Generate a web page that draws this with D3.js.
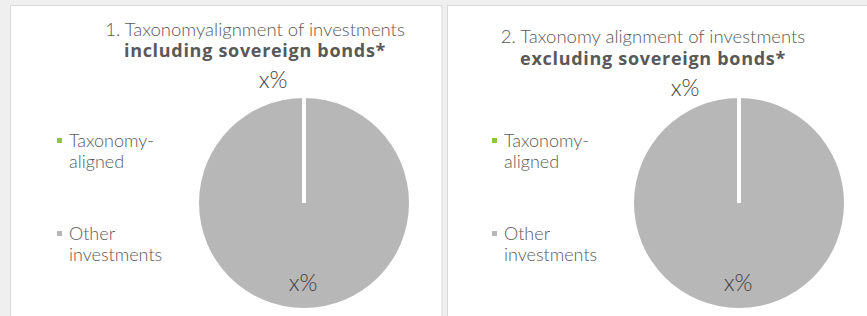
<!DOCTYPE html>
<html><head><meta charset="utf-8">
<script src="https://cdn.jsdelivr.net/npm/d3@7"></script>
<style>
html,body{margin:0;padding:0;background:#efefef;}
svg{display:block;}
text{font-family:Lato,"Noto Sans",sans-serif;fill:#595959;}
</style></head><body>
<svg id="c" width="867" height="316"></svg>
<script>
const categories = ["Taxonomy-aligned", "Other investments"];
const legendLines = [["Taxonomy-", "aligned"], ["Other", "investments"]];
const chartTitles = ["1. Taxonomyalignment of investments", "2. Taxonomy alignment of investments"];
const chartSubtitles = ["including sovereign bonds*", "excluding sovereign bonds*"];
const valuesIncluding = [0, 100];
const valuesExcluding = [0, 100];
const labelText = ["x%", "x%"];
const colors = ["#8cc63f", "#b7b7b7"];

const svg = d3.select("#c");
const color = d3.scaleOrdinal().domain(categories).range(colors);

const panels = [
  {x: 10.5, w: 431.5, cx: 304, cy: 203, titleX: 255, t1y: 36, t2y: 57, topLbl: [273, 88], legX: 57, values: valuesIncluding},
  {x: 447.5, w: 420, cx: 739, cy: 203, titleX: 653, t1y: 43, t2y: 65, topLbl: [685, 96], legX: 492, values: valuesExcluding}
];
const r = 105;

panels.forEach((p, i) => {
  svg.append("rect").attr("x", p.x).attr("y", 5.5).attr("width", p.w).attr("height", 320)
    .attr("fill", "#fff").attr("stroke", "#d9d9d9").attr("stroke-width", 1);

  svg.append("text").attr("x", p.titleX).attr("y", p.t1y).attr("text-anchor", "middle")
    .style("font-size", "18.5px").style("font-weight", 300).text(chartTitles[i]);
  svg.append("text").attr("x", p.titleX).attr("y", p.t2y).attr("text-anchor", "middle")
    .style("font-family", "'Open Sans',sans-serif").style("letter-spacing", "0.7px")
    .style("font-size", "18px").style("font-weight", 700).text(chartSubtitles[i]);

  const data = categories.map((c, k) => ({cat: c, value: p.values[k]}));
  const pie = d3.pie().sort(null).value(d => d.value);
  const arcs = pie(data);
  const arc = d3.arc().innerRadius(0).outerRadius(r);
  const g = svg.append("g").attr("transform", `translate(${p.cx},${p.cy})`);
  g.selectAll("path.slice").data(arcs).join("path").attr("class", "slice")
    .attr("d", arc).attr("fill", d => color(d.data.cat));
  // slice separators (white borders) at slice boundaries
  arcs.forEach(a => {
    const pt = d3.pointRadial(a.startAngle, r + 1);
    g.append("line").attr("x1", 0).attr("y1", 0).attr("x2", pt[0]).attr("y2", pt[1])
      .attr("stroke", "#fff").attr("stroke-width", 3.5);
  });

  // labels
  svg.append("text").attr("x", p.topLbl[0]).attr("y", p.topLbl[1]).attr("text-anchor", "middle")
    .style("font-size", "23px").style("font-weight", 300).style("fill", "#404040").text(labelText[0]);
  const big = arcs[1];
  const mid = (big.startAngle + big.endAngle) / 2;
  const lp = d3.pointRadial(mid, r * 0.8);
  svg.append("text").attr("x", p.cx + lp[0] - 1).attr("y", p.cy + lp[1] + 4).attr("text-anchor", "middle")
    .style("font-size", "23px").style("font-weight", 300).style("fill", "#404040").text(labelText[1]);

  // legend
  const legY = [138, 231];
  categories.forEach((c, k) => {
    svg.append("rect").attr("x", p.legX).attr("y", legY[k]).attr("width", 5).attr("height", 5)
      .attr("fill", color(c));
    legendLines[k].forEach((ln, j) => {
      svg.append("text").attr("x", p.legX + 12 ).attr("y", legY[k] + 9 + j * 21)
        .style("font-size", "18px").style("font-weight", 300).text(ln);
    });
  });
});
</script></body></html>
